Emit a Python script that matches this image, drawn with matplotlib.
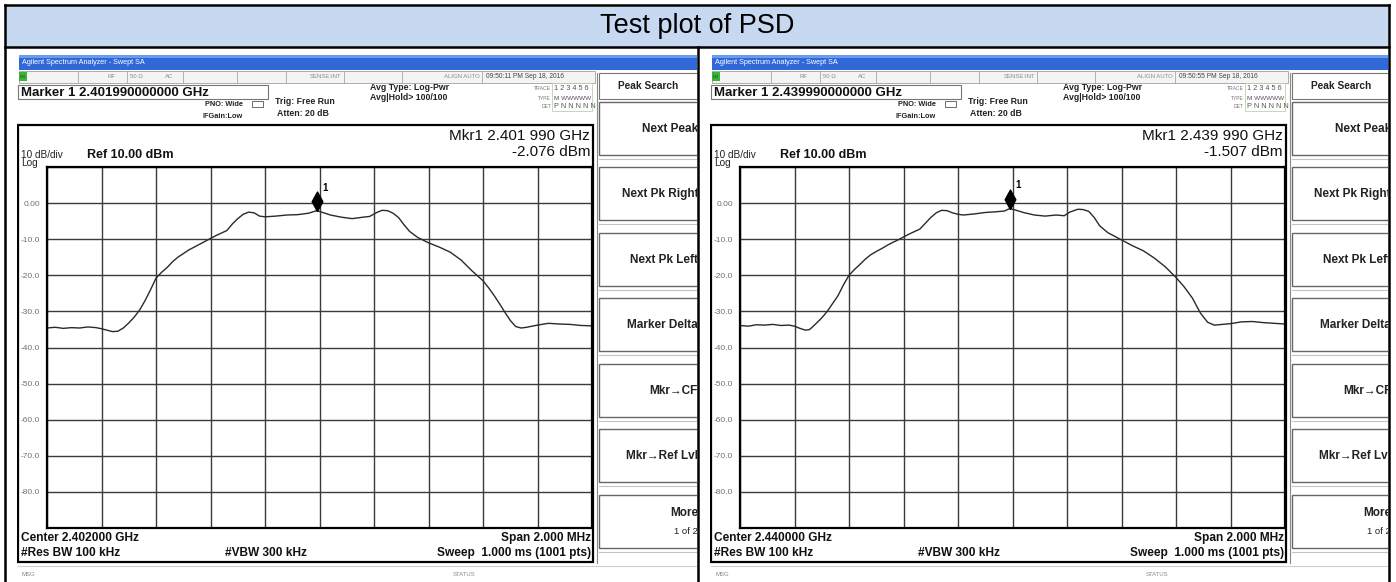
import matplotlib
matplotlib.use("Agg")
import matplotlib.pyplot as plt
from matplotlib.patches import Rectangle
from matplotlib.path import Path
import numpy as np

plt.rcParams['font.family'] = ['Liberation Sans', 'DejaVu Sans']

W, H = 1396, 582

# ---------------- data ----------------
title = "Test plot of PSD"

ref_level_dbm = 10.0
db_per_div = 10.0
span_mhz = 2.0
y_tick_labels = ["", "-80.0", "-70.0", "-60.0", "-50.0", "-40.0", "-30.0",
                 "-20.0", "-10.0", "0.00", ""]

softkeys = ["Next Peak", "Next Pk Right", "Next Pk Left", "Marker Delta",
            "Mkr\u2192CF", "Mkr\u2192Ref Lvl", "More"]

left_center_ghz = 2.402
left_marker_ghz = 2.40199
left_marker_dbm = -2.076
left_time = "09:50:11 PM Sep 18, 2016"
left_offset_mhz = [-1.00, -0.97, -0.94, -0.91, -0.88, -0.85, -0.82, -0.80, -0.78, -0.76,
                   -0.74, -0.72, -0.70, -0.68, -0.66, -0.64, -0.62, -0.60, -0.58, -0.56,
                   -0.54, -0.52, -0.50, -0.48, -0.46, -0.44, -0.42, -0.40, -0.38, -0.36,
                   -0.34, -0.32, -0.30, -0.28, -0.26, -0.24, -0.22, -0.20, -0.16, -0.12,
                   -0.08, -0.04, -0.01, 0.02, 0.04, 0.08, 0.12, 0.16, 0.184, 0.21,
                   0.23, 0.25, 0.27, 0.29, 0.31, 0.33, 0.36, 0.40, 0.44, 0.48,
                   0.52, 0.56, 0.60, 0.62, 0.64, 0.66, 0.68, 0.70, 0.72, 0.74,
                   0.76, 0.80, 0.84, 0.88, 0.92, 0.96, 1.00]
left_level_dbm = [-34.6, -34.4, -34.7, -34.5, -34.6, -34.3, -34.5, -34.8, -35.2, -35.6,
                  -35.5, -34.6, -33.2, -31.6, -29.6, -27.0, -24.0, -20.8, -19.2, -17.9,
                  -16.3, -15.0, -14.0, -13.0, -12.2, -11.4, -10.6, -9.8, -9.0, -8.3,
                  -7.6, -5.8, -4.3, -3.1, -2.5, -2.7, -3.6, -3.8, -3.6, -3.3,
                  -3.2, -2.8, -2.08, -2.8, -3.3, -3.9, -4.3, -3.9, -3.7, -2.6,
                  -2.0, -2.1, -2.8, -4.0, -6.0, -7.8, -9.5, -11.0, -12.2, -13.6,
                  -15.8, -18.8, -21.5, -23.4, -25.5, -27.8, -30.2, -32.5, -34.2, -34.6,
                  -34.4, -33.8, -33.3, -33.5, -33.6, -33.9, -34.0]

right_center_ghz = 2.440
right_marker_ghz = 2.43999
right_marker_dbm = -1.507
right_time = "09:50:55 PM Sep 18, 2016"
right_offset_mhz = [-1.00, -0.97, -0.94, -0.91, -0.88, -0.85, -0.82, -0.80, -0.78, -0.76,
                    -0.744, -0.72, -0.70, -0.68, -0.66, -0.64, -0.62, -0.60, -0.58, -0.56,
                    -0.54, -0.52, -0.50, -0.48, -0.46, -0.44, -0.42, -0.40, -0.38, -0.36,
                    -0.34, -0.32, -0.30, -0.28, -0.26, -0.24, -0.22, -0.20, -0.18, -0.14,
                    -0.10, -0.06, -0.03, -0.01, 0.01, 0.04, 0.08, 0.12, 0.16, 0.19,
                    0.21, 0.24, 0.26, 0.28, 0.30, 0.32, 0.35, 0.40, 0.44, 0.48,
                    0.52, 0.56, 0.60, 0.63, 0.66, 0.69, 0.716, 0.74, 0.77, 0.80,
                    0.84, 0.88, 0.92, 0.96, 1.00]
right_level_dbm = [-33.9, -34.1, -33.7, -33.8, -33.6, -33.9, -33.8, -34.1, -34.7, -35.2,
                   -35.0, -33.3, -31.8, -30.0, -27.8, -25.6, -22.6, -20.0, -18.4, -17.0,
                   -15.5, -14.3, -13.4, -12.6, -11.7, -10.9, -10.2, -9.4, -8.6, -7.9,
                   -7.2, -5.6, -4.0, -2.7, -2.0, -2.1, -2.7, -3.1, -3.3, -3.0,
                   -2.6, -2.4, -2.2, -1.51, -1.9, -2.6, -3.3, -3.6, -3.3, -3.5,
                   -2.5, -1.7, -1.8, -2.3, -4.0, -6.3, -8.2, -10.2, -11.8, -13.2,
                   -15.2, -17.6, -20.6, -23.2, -26.3, -30.5, -33.0, -33.8, -33.6, -33.4,
                   -32.9, -32.8, -33.1, -33.3, -33.5]

# ---------------- helpers ----------------
def px_rect(x0, y0, x1, y1):
    return [x0 / W, 1 - y1 / H, (x1 - x0) / W, (y1 - y0) / H]

fig = plt.figure(figsize=(W / 100, H / 100), dpi=100)
fig.patch.set_facecolor('white')

bg = fig.add_axes([0, 0, 1, 1])
bg.set_xlim(0, W); bg.set_ylim(H, 0); bg.axis('off')
bg.add_patch(Rectangle((5, 5), 1384, 42, facecolor='#c6d9f1', edgecolor='none'))
bg.text(697, 26, title, ha='center', va='center', fontsize=19.5, color='black')

diamond = Path([(0, 0), (0.55, 1), (0, 2), (-0.55, 1), (0, 0)],
               [Path.MOVETO, Path.LINETO, Path.LINETO, Path.LINETO, Path.CLOSEPOLY])


def fmt_mkr(g):
    s = f"{g:.6f}"
    return s[:-3] + " " + s[-3:]


def draw_screen(ox, x_clip, center, offs, lvls, mk_ghz, mk_dbm, stamp):
    sa = fig.add_axes(px_rect(ox - 2, 53, x_clip, H))
    sa.set_xlim(ox - 2, x_clip); sa.set_ylim(H, 53); sa.axis('off')
    X = lambda r: ox + r
    T = dict(clip_on=True)

    # window title bar
    sa.add_patch(Rectangle((X(0), 55), 800, 15, facecolor='#3068d8', edgecolor='none'))
    sa.add_patch(Rectangle((X(0), 55), 800, 3, facecolor='#6a9cf0', edgecolor='none'))
    sa.text(X(3), 62.5, 'Agilent Spectrum Analyzer - Swept SA', color='white',
            fontsize=5.2, va='center', **T)

    # status row
    sa.add_patch(Rectangle((X(0), 71), 576, 12, facecolor='#f4f4f4', edgecolor='#a0a0a0', lw=0.6))
    for r in [59, 108, 164, 218, 267, 325, 383, 463]:
        sa.plot([X(r), X(r)], [71, 83], color='#a8a8a8', lw=0.6)
    sa.add_patch(Rectangle((X(0), 72), 8, 9, facecolor='#39b339', edgecolor='none'))
    sa.text(X(4), 76.5, 'LXI', fontsize=2.8, ha='center', va='center', color='#124012', **T)
    st = dict(fontsize=4.3, color='#8a8a8a', va='center', **T)
    sa.text(X(88), 77, 'RF', **st)
    sa.text(X(111), 77, '50 \u03a9', **st)
    sa.text(X(146), 77, 'AC', **st)
    sa.text(X(307), 77, 'SENSE:INT', ha='center', **st)
    sa.text(X(443), 77, 'ALIGN AUTO', ha='center', **st)
    sa.text(X(467), 77, stamp, fontsize=4.8, color='#444', va='center', **T)

    # marker entry box
    sa.add_patch(Rectangle((X(-1), 85), 250, 14, facecolor='white', edgecolor='#777', lw=0.8))
    sa.text(X(2), 92.5, f"Marker 1 {mk_ghz:.12f} GHz", fontsize=9.5, fontweight='bold',
            va='center', color='#111', **T)
    sb = dict(fontsize=5.3, fontweight='bold', va='center', color='#222', **T)
    sa.text(X(224), 105, 'PNO: Wide', ha='right', **sb)
    sa.text(X(224), 117, 'IFGain:Low', ha='right', **sb)
    sa.add_patch(Rectangle((X(233), 101), 11, 6, facecolor='white', edgecolor='#555', lw=0.6))
    sm = dict(fontsize=6.3, fontweight='bold', va='center', color='#222', **T)
    sa.text(X(256), 101, 'Trig: Free Run', **sm)
    sa.text(X(258), 113, 'Atten: 20 dB', **sm)
    sa.text(X(351), 88, 'Avg Type: Log-Pwr', **sm)
    sa.text(X(351), 98, 'Avg|Hold> 100/100', **sm)
    tr = dict(fontsize=3.6, color='#777', va='center', ha='right', **T)
    sa.text(X(532), 88, 'TRACE', **tr)
    sa.text(X(532), 98, 'TYPE', **tr)
    sa.text(X(532), 107, 'DET', **tr)
    sa.add_patch(Rectangle((X(533), 83), 40, 28, facecolor='none', edgecolor='#b9d3b0', lw=0.6))
    tv = dict(fontsize=5.3, color='#555', va='center', **T)
    sa.text(X(535), 88, '1 2 3 4 5 6', **tv)
    sa.text(X(535), 98, 'M WWWWW', fontsize=4.6, color='#555', va='center', **T)
    sa.text(X(535), 107, 'P N N N N N', **tv)

    # softkey panel
    sa.plot([X(578), X(578)], [73, 563], color='#8a8a8a', lw=0.8)
    sa.add_patch(Rectangle((X(580), 73), 200, 26, facecolor='white', edgecolor='#777', lw=0.8))
    sa.text(X(629), 86, 'Peak Search', fontsize=7.3, fontweight='bold', ha='center',
            va='center', color='#222', **T)
    tops = [102, 167, 233, 298, 364, 429, 495]
    for top, lab in zip(tops, softkeys):
        sa.add_patch(Rectangle((X(580), top), 200, 53, facecolor='white', edgecolor='#666', lw=1.0))
        sa.plot([X(580), X(780)], [top + 57, top + 57], color='#c4c4c4', lw=0.8)
        if lab == 'More':
            sa.text(X(679), top + 18, lab, fontsize=8.5, fontweight='bold', ha='right',
                    va='center', color='#222', **T)
            sa.text(X(679), top + 36, '1 of 2', fontsize=6.8, ha='right', va='center',
                    color='#222', **T)
        else:
            sa.text(X(679), top + 27, lab, fontsize=8.5, fontweight='bold', ha='right',
                    va='center', color='#222', **T)

    # graph outer frame
    sa.add_patch(Rectangle((X(-1), 125), 575, 437, facecolor='none', edgecolor='black', lw=1.6))
    sa.text(X(571), 136, f"Mkr1 {fmt_mkr(mk_ghz)} GHz", fontsize=11, ha='right', va='center',
            color='#111', **T)
    sa.text(X(571), 152, f"{mk_dbm:.3f} dBm", fontsize=11, ha='right', va='center',
            color='#111', **T)
    sa.text(X(2), 155, f"{db_per_div:.0f} dB/div", fontsize=7.2, va='center', color='#222', **T)
    sa.text(X(2), 163, 'Log', fontsize=7.2, va='center', color='#222', **T)
    sa.text(X(68), 155, f"Ref {ref_level_dbm:.2f} dBm", fontsize=9, fontweight='bold',
            va='center', color='#111', **T)
    bb = dict(fontsize=8.6, fontweight='bold', va='center', color='#111', **T)
    sa.text(X(2), 538, f"Center {center:.6f} GHz", **bb)
    sa.text(X(572), 538, f"Span {span_mhz:.3f} MHz", ha='right', **bb)
    sa.text(X(2), 553, '#Res BW 100 kHz', **bb)
    sa.text(X(206), 553, '#VBW 300 kHz', **bb)
    sa.text(X(572), 553, 'Sweep  1.000 ms (1001 pts)', ha='right', **bb)

    # message row
    sa.plot([X(-1), X(780)], [566, 566], color='#cfcfcf', lw=0.8)
    sa.text(X(3), 575, 'MSG', fontsize=4.3, color='#888', va='center', **T)
    sa.text(X(434), 575, 'STATUS', fontsize=4.3, color='#888', va='center', **T)

    # spectrum grid
    ax = fig.add_axes(px_rect(X(28), 167, X(573), 528))
    ax.plot(offs, lvls, color='#2a2a2a', lw=1.0)
    ax.set_xlim(-span_mhz / 2, span_mhz / 2)
    ax.set_ylim(ref_level_dbm - 10 * db_per_div, ref_level_dbm)
    ax.set_xticks(np.linspace(-span_mhz / 2, span_mhz / 2, 11))
    ax.set_yticks(np.arange(ref_level_dbm - 10 * db_per_div, ref_level_dbm + 1, db_per_div))
    ax.set_xticklabels([])
    ax.set_yticklabels(y_tick_labels)
    ax.grid(True, color='#3a3a3a', lw=1.0)
    ax.tick_params(length=0, labelsize=6, labelcolor='#707070', pad=5)
    for s in ax.spines.values():
        s.set_linewidth(1.6)
    mk_off = (mk_ghz - center) * 1000.0
    ax.plot([mk_off], [mk_dbm], marker=diamond, markersize=28, color='black',
            linestyle='none', clip_on=False)
    ax.annotate('1', (mk_off, mk_dbm), xytext=(4, 13), textcoords='offset points',
                fontsize=7, fontweight='bold', va='bottom', ha='left')


draw_screen(19, 697, left_center_ghz, left_offset_mhz, left_level_dbm,
            left_marker_ghz, left_marker_dbm, left_time)
draw_screen(712, 1388, right_center_ghz, right_offset_mhz, right_level_dbm,
            right_marker_ghz, right_marker_dbm, right_time)

# table borders on top
tb = fig.add_axes([0, 0, 1, 1])
tb.set_xlim(0, W); tb.set_ylim(H, 0); tb.axis('off')
for xs, ys in [([5, 5], [5, H + 5]), ([1389, 1389], [5, H + 5]), ([5, 1389], [5, 5]),
               ([5, 1389], [47, 47]), ([698, 698], [47, H + 5])]:
    tb.plot(xs, ys, color='black', lw=1.8, solid_capstyle='projecting')

fig.savefig('out.png', dpi=100)
